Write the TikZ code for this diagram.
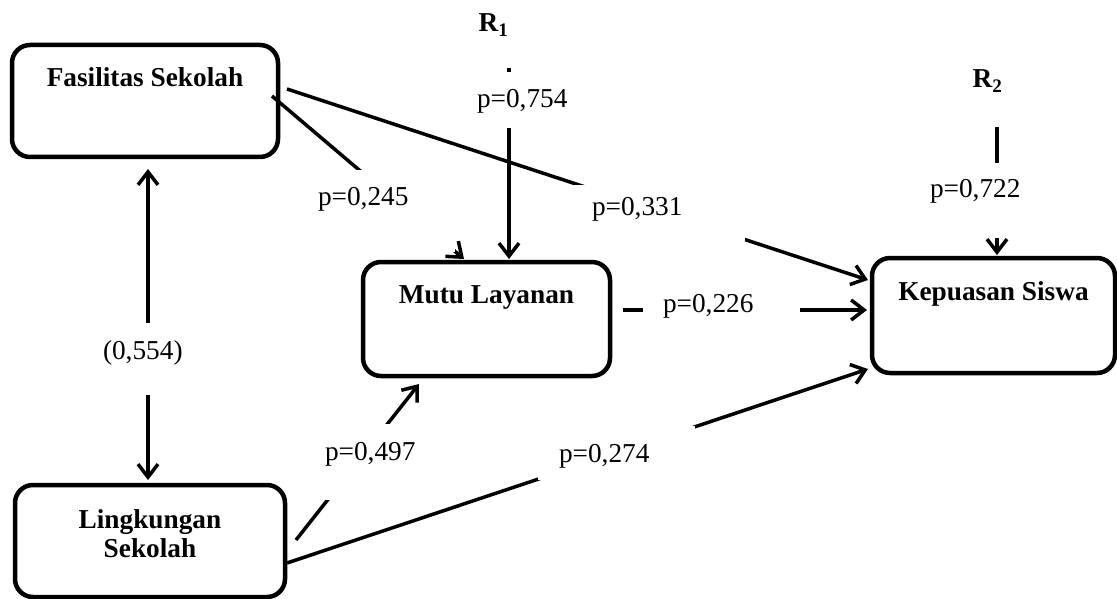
\documentclass[tikz,border=0pt]{standalone}
\usepackage{fontspec}
\setmainfont{Liberation Serif}
\usetikzlibrary{arrows.meta, positioning}

\begin{document}
\begin{tikzpicture}[
    x=1pt, y=-1pt,
    >={Straight Barb[length=13pt, width=20pt]},
    varbox/.style={
        rectangle, rounded corners=18pt, draw=black, line width=4.5pt,
        inner sep=0pt, outer sep=0pt, align=center,
        font=\fontsize{27.3pt}{29pt}\selectfont\bfseries
    },
    coef/.style={
        fill=white, inner sep=0pt, outer sep=0pt, anchor=north west,
        align=left, font=\fontsize{27.3pt}{29pt}\selectfont
    },
    resid/.style={
        inner sep=0pt, anchor=base, text height=18pt, text depth=0pt,
        font=\fontsize{27.3pt}{29pt}\selectfont\bfseries
    },
    link/.style={->, line width=3.5pt},
]
\useasboundingbox (0,0) rectangle (1117,599);

% ── Variables ──
\node[varbox, minimum width=266pt, text height=42pt, text depth=70pt] (fas) at (145,101) {Fasilitas Sekolah};
\node[varbox, text width=270pt, text height=43pt, text depth=69pt, below=328pt of fas, xshift=5pt] (ling) {Lingkungan\\Sekolah};
\node[varbox, minimum width=247pt, text height=41pt, text depth=73pt, below right=105pt and 85pt of fas] (mutu) {Mutu Layanan};
\node[varbox, minimum width=243pt, text height=42pt, text depth=73pt, right=262pt of mutu, yshift=3.5pt] (kep) {Kepuasan Siswa};

\node[resid] (r1) at (493.5,32) {R\textsubscript{1}};
\node[resid] (r2) at (987.5,88) {R\textsubscript{2}};

% ── Paths ──
\draw[link] ([xshift=-6pt, yshift=5pt]fas.east) -- ([xshift=-22.5pt, yshift=3pt]mutu.north);
\draw[link] ([xshift=9pt, yshift=12pt]fas.east) -- ([xshift=-4pt, yshift=35.5pt]kep.west);
\draw[link] ([xshift=15.5pt, yshift=-36pt]r1.south) -- ([xshift=22.5pt, yshift=3pt]mutu.north);
\draw[link] ([xshift=9.5pt, yshift=-39pt]r2.south) -- ([xshift=3.5pt, yshift=3pt]kep.north);
\draw[link, <->] ([xshift=3pt, yshift=-12pt]fas.south) -- ([xshift=-2pt, yshift=5pt]ling.north);
\draw[link] ([xshift=11pt, yshift=1pt]ling.east) -- ([xshift=-67.5pt, yshift=-8pt]mutu.south);
\draw[link] ([xshift=2pt, yshift=-22pt]ling.east) -- ([xshift=-4pt, yshift=-53.5pt]kep.west);
\draw[link] ([xshift=13pt, yshift=9pt]mutu.east) -- ([xshift=-5pt, yshift=5.5pt]kep.west);

% ── Coefficients ──
\node[coef, text width=147pt, text height=35pt, text depth=47pt] (c245) at (308,170) {\hspace*{10pt}p=0,245};
\node[coef, text width=172pt, text height=30pt, text depth=26pt] (c331) at (573,185) {\hspace*{19pt}p=0,331};
\node[coef, text width=105pt, text height=36pt, text depth=20pt] (c754) at (470,72) {\hspace*{7pt}p=0,754};
\node[coef, text width=105pt, text height=34pt, text depth=41pt] (c722) at (925,163) {\hspace*{5pt}p=0,722};
\node[coef, text width=95pt, text height=36pt, text depth=36pt] (c554) at (100,323) {\hspace*{3pt}(0,554)};
\node[coef, text width=98pt, text height=36pt, text depth=40pt] (c497) at (322,424) {\hspace*{3pt}p=0,497};
\node[coef, text width=157pt, text height=36pt, text depth=18pt] (c274) at (538,426) {\hspace*{21pt}p=0,274};
\node[coef, text width=157pt, text height=24pt, text depth=16pt] (c226) at (643,288) {\hspace*{20pt}p=0,226};

\end{tikzpicture}
\end{document}
